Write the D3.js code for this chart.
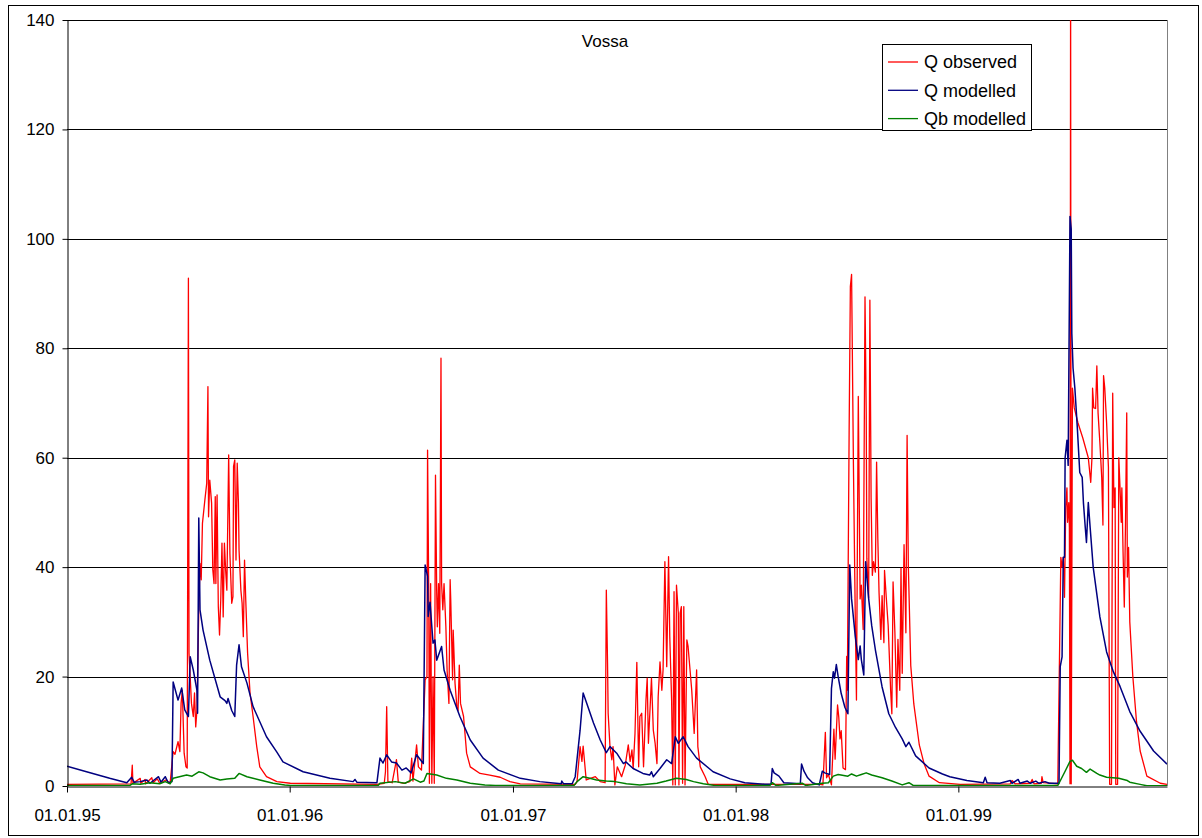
<!DOCTYPE html>
<html><head><meta charset="utf-8">
<script src="https://cdn.jsdelivr.net/npm/d3@7"></script>
<style>body{margin:0;background:#fff}text{font-family:"Liberation Sans",Arial,sans-serif}</style>
</head><body><svg id="c" width="1202" height="838"></svg>
<script>
// ---- data (day index since 01.01.1995, discharge) ----
const startDate = new Date(1995, 0, 1);
const lastDay = 1803;
const chartTitle = "Vossa";
const yTicks = [0, 20, 40, 60, 80, 100, 120, 140];
const xTickLabels = ["01.01.95", "01.01.96", "01.01.97", "01.01.98", "01.01.99"];
const xTickDays = [0, 365, 731, 1096, 1461];
const seriesNames = ["Q observed", "Q modelled", "Qb modelled"];
const seriesColors = ["#ff0000", "#000080", "#008000"];

const qObserved = [[0,0.3],[105,0.4],[107,3.8],[108,0.5],[120,1.4],[121,0.5],[128,1.2],[129,0.4],[139,1.5],[141,0.6],[148,1.3],[152,0.5],[162,1.1],[169,0.5],
[174,6.3],[177,5.8],[182,8.1],[185,6.3],[187,15.1],[189,17.5],[192,6],[195,3.5],[197,3.3],[199,92.8],[200,24.3],[204,15.1],[207,12.7],[209,17],[211,10.8],[213,13.9],
[216,32.2],[218,40.7],[220,37.7],[222,48],[226,52.3],[229,55.3],[231,73],[232,49.2],[234,55.9],[237,51.7],[239,39.5],[241,37],[243,52.9],[244,37],[246,53.2],[248,32.8],
[250,27.6],[252,34],[254,44.4],[256,30.9],[258,44.4],[260,39.5],[262,35.8],[265,60.5],[267,42.5],[270,33.4],[272,34.6],[273,58.4],[275,59.6],[277,41.3],[279,59],
[281,51.7],[282,43.1],[285,35.8],[287,33.4],[289,27.3],[291,41.3],[293,34],[296,24.3],[300,17],[305,12.7],[311,7.2],[316,3.5],[327,1.7],[344,0.8],[366,0.5],[508,0.3],
[520,0.5],[522,2.6],[524,14.5],[526,0.8],[533,0.6],[540,4.8],[543,0.7],[552,0.5],[562,0.8],[565,5.1],[567,0.9],[573,7.5],[576,3.5],[581,2.9],[587,19.4],[590,20],
[591,61.4],[593,34],[594,0.5],[596,37],[598,0.5],[600,20],[602,0.5],[604,56.8],[606,35.2],[607,29.1],[609,37],[611,27.9],[613,78.2],[614,37],[616,32.2],[618,37],
[621,29.1],[623,21.2],[626,15.1],[628,37.7],[629,34],[632,19.4],[633,28.5],[636,18.8],[639,14.5],[641,13.8],[643,22.1],[645,15.1],[650,12.7],[655,6],[661,3.5],
[677,2.3],[693,2],[710,1.6],[726,0.8],[743,0.4],[833,0.3],
[836,0.8],[841,7.2],[844,4.5],[846,7.3],[851,1.1],[866,1.7],[874,0.8],[882,0.6],[884,35.8],[886,22.4],[887,13.3],[890,7.2],[893,4.8],[895,7.2],[898,0.2],[902,3.5],
[909,1.7],[915,3.8],[920,7.5],[923,4.5],[926,6.6],[928,3.2],[931,9.6],[934,22.6],[937,3.5],[939,12.7],[942,13.3],[945,3.5],[949,15.7],[951,19.7],[953,7.8],[958,19.7],
[961,10.2],[964,7.8],[967,4.1],[969,16.3],[972,22.7],[975,17.5],[977,21.2],[980,41],[983,21.8],[986,41.9],[988,27.3],[991,15.7],[993,0.2],[995,35.5],[997,0.2],
[999,36.7],[1002,31.6],[1003,0.2],[1005,31.6],[1007,32.8],[1009,0.5],[1011,32.8],[1013,0.2],[1016,26.7],[1018,25.5],[1024,17.5],[1028,9.6],[1032,21.2],[1034,7.2],
[1038,3.5],[1046,1.7],[1051,0.3],[1234,0.3],
[1239,0.2],[1243,9.8],[1245,1.5],[1248,2.1],[1253,0.2],[1257,10.4],[1259,4.9],[1263,14.8],[1265,12.6],[1267,8.6],[1269,10.1],[1272,3.3],[1276,3],[1278,23.7],[1279,17.5],
[1282,65],[1284,91.3],[1286,93.5],[1289,58.9],[1292,31.1],[1294,15.7],[1297,71.2],[1300,34.2],[1302,36.7],[1305,28.6],[1308,89.4],[1310,68.1],[1311,41.6],[1314,34.2],
[1316,88.8],[1318,52.7],[1320,38.5],[1322,41],[1325,39.1],[1327,59.2],[1329,45.3],[1331,35.4],[1334,26.8],[1336,34.8],[1339,26.2],[1340,39.4],[1343,34.2],[1346,29.3],
[1350,17.5],[1352,13.2],[1354,37.3],[1357,28],[1360,14.4],[1362,26.8],[1365,17.5],[1367,39.8],[1369,20.6],[1372,44.1],[1375,28],[1377,64.1],[1379,40.4],[1383,22],
[1388,15],[1397,7.5],[1405,4],[1413,1.8],[1430,0.6],[1464,0.3],[1546,0.4],[1549,1],[1554,0.4],[1579,0.5],[1582,1.2],[1585,0.4],[1597,0.5],[1598,1.7],[1600,0.6],[1624,0.4],
[1629,41.8],[1631,40],[1633,41.8],[1635,34.5],[1637,50.9],[1639,54.5],[1640,48.2],[1642,51.8],[1643,47.3],[1644,0.4],[1645,150],[1646,0.4],[1648,72.7],[1651,69.1],
[1657,66.4],[1665,63.6],[1674,60],[1678,55.5],[1680,60],[1681,72.7],[1683,69.1],[1686,69],[1688,76.8],[1690,68.2],[1693,62.7],[1696,56.4],[1698,47.7],[1699,75],
[1701,72.7],[1704,66.4],[1707,58.2],[1709,0.3],[1712,0.3],[1714,71.8],[1716,50.9],[1718,54.5],[1719,0.3],[1722,0.3],[1724,60],[1726,54.5],[1728,48.2],[1729,54.5],
[1731,42.7],[1733,32.7],[1735,48.2],[1737,68.2],[1738,38.2],[1740,43.6],[1742,30],[1747,20],[1753,11.8],[1759,6.4],[1770,1.8],[1792,0.5],[1803,0.3]];

const qModelled = [[0,3.6],[32,2.6],[70,1.4],[98,0.6],[106,1.6],[110,0.7],[120,0.8],[131,1.1],[136,0.5],[150,1.7],[154,0.7],[161,1.7],[166,0.6],[172,0.8],
[174,19],[182,15.7],[188,17.9],[193,13.9],[199,12.7],[202,23.6],[207,21.2],[213,17.5],[214,13.3],[216,49],[218,32.2],[223,28.5],[234,23],[251,16.3],[259,15.6],
[262,15.1],[264,16],[270,13.8],[275,12.7],[278,22.1],[282,25.8],[286,21.8],[295,18.8],[305,14.5],[327,9],[344,6.2],[354,4.4],[387,2.6],[431,1.4],[469,0.8],[472,1.2],
[475,0.7],[508,0.6],[513,5.1],[518,4.2],[524,5.7],[532,4.4],[540,4.2],[549,2.9],[556,3.3],[564,2.4],[573,5.7],[584,4.1],[587,40.4],[591,38.3],[592,31],[595,33.6],
[600,26.1],[603,26.7],[606,23],[614,25.5],[618,21.2],[628,17.5],[644,12.7],[661,8.4],[682,5.1],[707,2.9],[743,1.4],[775,0.8],[810,0.4],[811,0.9],[814,0.4],[828,0.4],
[833,1.7],[841,10.2],[846,17],[852,15.1],[863,11.5],[874,8.4],[884,6.1],[890,7.2],[901,6],[912,4.1],[916,4.4],[928,3.2],[944,2.3],[955,2],[958,2.6],[961,1.7],
[972,3.2],[983,4.8],[991,4.1],[997,9],[1002,7.8],[1010,9],[1018,7.2],[1032,5.1],[1059,2.6],[1087,1.3],[1111,0.6],[1144,0.3],[1154,0.3],[1156,3.2],[1159,2.4],
[1167,1.8],[1175,0.6],[1202,0.4],[1204,4],[1208,2.7],[1214,1.5],[1222,0.6],[1233,0.2],[1238,2.7],[1242,2.4],[1250,2.1],[1253,17.8],[1256,20.9],[1258,19.7],
[1261,22.2],[1264,20],[1269,16.9],[1275,14.4],[1280,13.2],[1283,40.4],[1286,34.2],[1292,27.4],[1297,23.1],[1300,25.6],[1302,23.1],[1306,20.3],[1309,41],[1314,34.2],
[1319,29.3],[1325,24.9],[1336,18.1],[1347,13.2],[1358,10.7],[1369,8.6],[1375,7.2],[1380,8],[1391,5.5],[1413,3.3],[1435,2.2],[1447,1.7],[1475,1],[1502,0.6],[1505,1.6],
[1508,0.6],[1529,0.5],[1546,1],[1549,0.5],[1559,1.2],[1562,0.5],[1574,0.9],[1579,0.5],[1588,0.9],[1593,0.5],[1603,0.8],[1610,0.5],[1626,0.5],[1628,21.8],[1631,23.6],
[1633,41.8],[1635,41.8],[1636,60],[1639,63.2],[1641,58.6],[1644,104.1],[1646,101.8],[1647,82.7],[1649,76.4],[1652,72.7],[1656,65.5],[1660,57.3],[1664,56.4],
[1666,51.8],[1669,47.3],[1671,44.5],[1674,51.8],[1677,47.3],[1682,40],[1693,30.9],[1704,24.5],[1715,20.9],[1726,18.2],[1742,13.6],[1759,10],[1781,6.4],[1803,4]];

const qbModelled = [[0,0.1],[103,0.1],[107,0.4],[120,0.3],[136,0.6],[152,0.4],[161,0.8],[169,0.4],[174,1.4],[196,2],[205,1.8],[216,2.6],[223,2.4],[234,1.7],
[251,1.1],[262,1.3],[275,1.4],[282,2.3],[295,1.7],[316,1.1],[338,0.5],[357,0.2],[366,0.1],[510,0.1],[513,0.5],[538,0.8],[554,0.5],[568,1.3],[579,0.7],[585,0.9],
[590,2.3],[606,2],[622,1.4],[639,1.1],[661,0.5],[685,0.2],[702,0.1],[831,0.1],[836,0.8],[846,1.7],[857,1.4],[868,1.1],[884,0.9],[898,0.8],[917,0.4],[939,0.2],
[967,0.5],[982,0.9],[999,1.4],[1015,1.2],[1027,0.8],[1043,0.4],[1062,0.1],[1152,0.1],[1156,0.6],[1162,0.1],[1205,0.5],[1211,0.1],[1238,0.5],[1248,0.6],[1256,1.8],
[1264,2.1],[1280,1.8],[1286,2.2],[1294,1.8],[1302,2.1],[1310,2.4],[1319,2],[1336,1.5],[1352,0.9],[1369,0.2],[1380,0.6],[1387,0.1],[1624,0.1],[1626,0.5],[1636,2.7],
[1644,4.5],[1648,4.7],[1655,3.6],[1663,3.2],[1671,2.5],[1677,3.1],[1688,2.3],[1693,2],[1704,1.6],[1724,1.4],[1738,1],[1742,0.7],[1759,0.3],[1770,0.05],[1803,0.05]];

// ---- drawing ----
const svg = d3.select("#c");
const pLeft = 67, pRight = 1167, pTop = 20, pBottom = 786;
const dayToDate = d => d3.timeDay.offset(startDate, d);
const x = d3.scaleTime().domain([startDate, dayToDate(lastDay)]).range([pLeft, pRight]);
const y = d3.scaleLinear().domain([0, 140]).range([pBottom, pTop]);

svg.append("rect").attr("x", 8.5).attr("y", 5.5).attr("width", 1190).attr("height", 830)
  .attr("fill", "#fff").attr("stroke", "#000").attr("stroke-width", 1);

svg.append("defs").append("clipPath").attr("id", "pc").append("rect")
  .attr("x", pLeft).attr("y", pTop).attr("width", pRight - pLeft).attr("height", pBottom - pTop);

// gridlines
svg.append("g").selectAll("line").data(yTicks.filter(v => v > 0)).join("line")
  .attr("x1", pLeft).attr("x2", pRight).attr("y1", d => Math.round(y(d)) + 0.5).attr("y2", d => Math.round(y(d)) + 0.5)
  .attr("stroke", "#000").attr("stroke-width", 1);
svg.append("line").attr("x1", pRight + 0.5).attr("x2", pRight + 0.5).attr("y1", pTop).attr("y2", pBottom)
  .attr("stroke", "#808080").attr("stroke-width", 1);

// series
const line = d3.line().x(d => x(dayToDate(d[0]))).y(d => y(d[1]));
const gSeries = svg.append("g").attr("clip-path", "url(#pc)");
[qObserved, qModelled, qbModelled].forEach((s, i) => {
  gSeries.append("path").datum(s).attr("d", line).attr("fill", "none")
    .attr("stroke", seriesColors[i]).attr("stroke-width", i === 0 ? 1.3 : 1.5)
    .attr("stroke-linejoin", "round");
});

// axes
const yAxis = d3.axisLeft(y).tickValues(yTicks).tickSize(5).tickSizeOuter(0).tickPadding(8).tickFormat(d3.format("d"));
const gy = svg.append("g").attr("transform", `translate(${pLeft + 0.5},0)`).call(yAxis);
gy.selectAll("text").attr("font-size", 17).attr("fill", "#000").style("font-family", '"Liberation Sans",Arial,sans-serif');
gy.selectAll("line,path").attr("stroke", "#000");

const xAxis = d3.axisBottom(x).tickValues(xTickDays.map(dayToDate)).tickSize(6).tickSizeOuter(0).tickPadding(16)
  .tickFormat((d, i) => xTickLabels[i]);
const gx = svg.append("g").attr("transform", `translate(0,${pBottom + 0.5})`).call(xAxis);
gx.selectAll("text").attr("font-size", 17).attr("fill", "#000").style("font-family", '"Liberation Sans",Arial,sans-serif');
gx.selectAll("line,path").attr("stroke", "#000");

// title
svg.append("text").attr("x", 605).attr("y", 47).attr("text-anchor", "middle").attr("font-size", 17).text(chartTitle);

// legend
const lg = svg.append("g");
lg.append("rect").attr("x", 882.5).attr("y", 44.5).attr("width", 149).attr("height", 86)
  .attr("fill", "#fff").attr("stroke", "#000");
seriesNames.forEach((n, i) => {
  const yy = 62 + i * 28.3;
  lg.append("line").attr("x1", 888).attr("x2", 918).attr("y1", yy).attr("y2", yy)
    .attr("stroke", seriesColors[i]).attr("stroke-width", 1.3);
  lg.append("text").attr("x", 924).attr("y", yy).attr("dy", "0.36em").attr("font-size", 18).text(n);
});
</script></body></html>
